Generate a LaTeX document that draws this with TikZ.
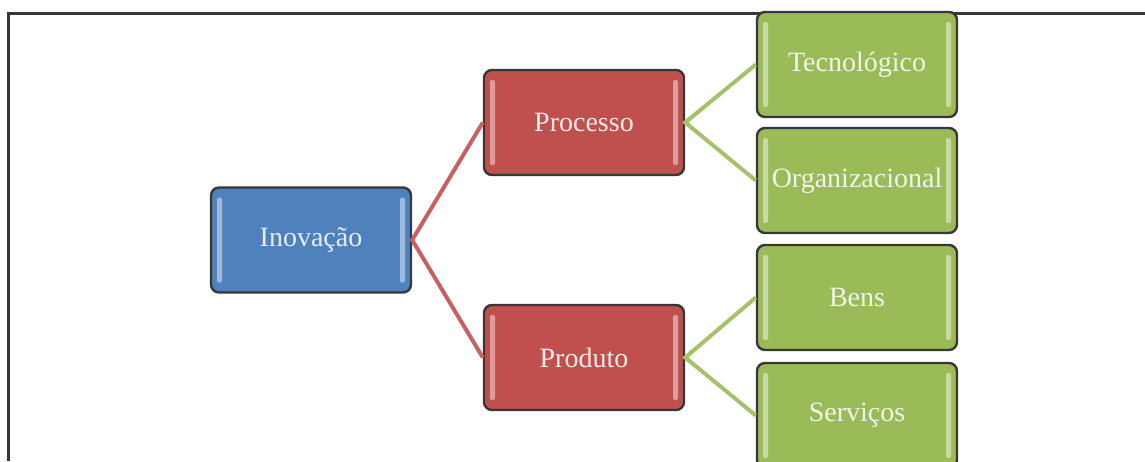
\documentclass[tikz,border=0pt]{standalone}
\usepackage{fontspec}
\setmainfont{Liberation Serif}
\usepackage{tikz}
\usetikzlibrary{positioning}

\definecolor{azul}{RGB}{79,129,189}
\definecolor{vermelho}{RGB}{192,80,77}
\definecolor{verde}{RGB}{155,187,89}
\definecolor{borda}{RGB}{55,55,55}

\begin{document}
\begin{tikzpicture}[x=0.5pt, y=-0.5pt,
    caixa/.style={rectangle, rounded corners=4pt, draw=borda, line width=1.2pt,
        minimum width=100pt, minimum height=52.5pt, inner sep=1pt,
        font=\fontsize{14}{16}\selectfont,
        path picture={
            \fill[white, opacity=.45, rounded corners=1pt]
                ([xshift=3pt, yshift=5pt]path picture bounding box.south west)
                rectangle ([xshift=5.5pt, yshift=-5pt]path picture bounding box.north west);
            \fill[white, opacity=.45, rounded corners=1pt]
                ([xshift=-3pt, yshift=5pt]path picture bounding box.south east)
                rectangle ([xshift=-5.5pt, yshift=-5pt]path picture bounding box.north east);
        }},
    raiz/.style={caixa, fill=azul, text=azul!15!white},
    meio/.style={caixa, fill=vermelho, text=vermelho!12!white},
    folha/.style={caixa, fill=verde, text=verde!15!white},
    ligvermelha/.style={draw=vermelho!90!white, line width=2pt},
    ligverde/.style={draw=verde!90!white, line width=2pt}]

    \useasboundingbox (0,0) rectangle (1145,461);
    % moldura
    \draw[borda, line width=1.5pt] (8,461) |- (1145,13);

    \node[raiz] (inov) at (311,240) {Inovação};
    \node[meio] (proc) at (584,122.5) {Processo};
    \node[meio] (prod) at (584,357.5) {Produto};
    \node[folha] (tec) at (857,64.5) {Tecnológico};
    \node[folha] (org) at (857,180.5) {Organizacional};
    \node[folha] (bens) at (857,297.5) {Bens};
    \node[folha] (serv) at (857,415.5) {Serviços};

    \draw[ligvermelha] (proc.west) -- (inov.east) -- (prod.west);
    \draw[ligverde] (tec.west) -- (proc.east) -- (org.west);
    \draw[ligverde] (bens.west) -- (prod.east) -- (serv.west);
\end{tikzpicture}
\end{document}
